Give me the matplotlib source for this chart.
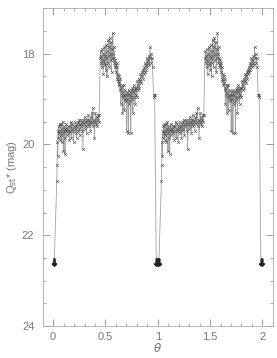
import numpy as np
import matplotlib.pyplot as plt
from matplotlib.ticker import MultipleLocator

# fase y magnitud de un ciclo (se repite en theta+1)
fase = [0.035, 0.038, 0.041, 0.044, 0.047, 0.050, 0.054, 0.058, 0.062, 0.066,
        0.070, 0.074, 0.078, 0.082, 0.086, 0.090, 0.094, 0.098, 0.102, 0.106,
        0.110, 0.114, 0.118, 0.122, 0.126, 0.130, 0.135, 0.140, 0.145, 0.150,
        0.155, 0.160, 0.165, 0.170, 0.175, 0.180, 0.185, 0.190, 0.195, 0.200,
        0.205, 0.210, 0.215, 0.220, 0.225, 0.230, 0.235, 0.240, 0.245, 0.250,
        0.255, 0.260, 0.265, 0.270, 0.275, 0.280, 0.285, 0.290, 0.295, 0.300,
        0.305, 0.310, 0.315, 0.320, 0.325, 0.330, 0.335, 0.340, 0.345, 0.350,
        0.355, 0.360, 0.365, 0.370, 0.375, 0.380, 0.385, 0.390, 0.395, 0.400,
        0.405, 0.410, 0.415, 0.420, 0.425, 0.430, 0.435, 0.440,
        0.450, 0.455, 0.458, 0.462, 0.466, 0.470, 0.474, 0.478, 0.482, 0.486,
        0.490, 0.494, 0.498, 0.502, 0.506, 0.510, 0.514, 0.518, 0.522, 0.526,
        0.530, 0.534, 0.538, 0.542, 0.546, 0.550, 0.554, 0.558, 0.562, 0.566,
        0.570, 0.574, 0.578, 0.582, 0.586, 0.590, 0.594, 0.598,
        0.602, 0.606, 0.610, 0.614, 0.618, 0.622, 0.626, 0.630, 0.634, 0.638,
        0.642, 0.646, 0.650, 0.654, 0.658, 0.662, 0.666, 0.670, 0.674, 0.678,
        0.682, 0.686, 0.690, 0.694, 0.698, 0.702, 0.706, 0.710, 0.714, 0.718,
        0.722, 0.726, 0.730, 0.734, 0.738, 0.742, 0.746, 0.750, 0.754, 0.758,
        0.762, 0.766, 0.770, 0.774, 0.778, 0.782, 0.786,
        0.790, 0.795, 0.800, 0.805, 0.810, 0.815, 0.820, 0.825, 0.830, 0.835,
        0.840, 0.845, 0.850, 0.855, 0.860, 0.865, 0.870, 0.875, 0.880, 0.885,
        0.890, 0.895, 0.900, 0.905, 0.910, 0.915, 0.920, 0.925, 0.930, 0.935,
        0.940, 0.945, 0.950, 0.960, 0.965, 0.970]
mag = [20.8, 20.45, 19.95, 20.25, 19.7, 19.85, 19.6, 19.75, 19.55, 19.9,
       19.7, 19.8, 19.55, 19.95, 19.65, 19.5, 19.75, 20.15, 19.7, 19.6,
       19.85, 20.2, 19.65, 19.7, 19.55, 19.8, 19.65, 19.7, 19.6, 19.75,
       19.9, 19.6, 19.7, 19.5, 19.85, 19.65, 19.55, 19.7, 19.95, 19.6,
       19.65, 19.5, 19.75, 19.6, 19.85, 19.55, 19.7, 19.5, 19.65, 19.45,
       19.8, 19.55, 19.6, 19.45, 19.7, 19.5, 20.1, 19.55, 19.45, 19.65,
       19.4, 19.6, 19.5, 19.75, 19.45, 19.55, 19.35, 19.6, 19.45, 19.5,
       19.7, 19.4, 19.55, 19.3, 19.5, 19.2, 19.6, 19.45, 19.85, 19.5,
       19.3, 19.55, 19.4, 19.6, 19.45, 19.35, 19.5, 19.35,
       18.1, 17.95, 18.2, 18.05, 18.3, 17.9, 18.15, 18.45, 18.0, 18.2,
       17.85, 18.25, 18.05, 18.35, 17.8, 18.1, 18.5, 17.95, 18.2, 17.7,
       18.05, 18.3, 17.85, 17.65, 18.0, 18.15, 17.75, 18.4, 17.9, 18.1,
       17.55, 18.0, 18.2, 17.85, 18.1, 18.3, 18.15, 18.25,
       18.4, 18.2, 18.55, 18.3, 18.6, 18.45, 18.7, 18.5, 18.65, 18.8,
       18.55, 19.1, 18.75, 18.9, 18.7, 19.3, 18.85, 18.95, 18.7, 19.25,
       18.9, 19.0, 18.8, 19.05, 18.9, 19.7, 18.85, 19.0, 18.9, 19.75,
       18.8, 19.1, 18.9, 19.05, 18.85, 19.75, 18.95, 18.8, 19.0, 18.75,
       19.3, 18.85, 18.7, 18.95, 18.8, 19.1, 18.75,
       18.9, 18.75, 18.95, 18.6, 18.8, 18.7, 18.55, 18.75, 18.6, 18.45,
       18.65, 18.5, 18.4, 18.55, 18.35, 18.45, 18.3, 18.4, 18.2, 18.35,
       18.25, 18.1, 18.3, 18.15, 18.2, 18.05, 18.25, 17.85, 18.1, 18.0,
       18.2, 18.1, 18.3, 18.9, 18.95, 18.9]

# limites superiores (no detecciones)
fase_lim_ini = [0.006, 0.012]
fase_lim_fin = [0.985, 0.992]
mag_lim = 22.5

plt.rcParams['font.family'] = ['Liberation Sans', 'DejaVu Sans']
gris = '#8a8a8a'

fig = plt.figure(figsize=(2.77, 3.58), dpi=100)
ax = fig.add_axes([0.154, 0.089, 0.831, 0.888])

# armar la curva completa: dos ciclos, con los limites en la secuencia
x_all, y_all = [], []
for k in [0, 1]:
    x_all += [p + k for p in fase_lim_ini] + [p + k for p in fase] + [p + k for p in fase_lim_fin]
    y_all += [mag_lim] * len(fase_lim_ini) + mag + [mag_lim] * len(fase_lim_fin)
x_all = np.array(x_all)
y_all = np.array(y_all)
det = y_all < mag_lim

ax.plot(x_all, y_all, color='#a0a0a0', lw=0.6, zorder=1)
ax.plot(x_all[det], y_all[det], 'x', color='#555555', ms=2.0, mew=0.45, zorder=2)
ax.plot(x_all[~det], y_all[~det] + 0.08, marker=r'$\downarrow$', ls='none',
        color='#222222', ms=5, zorder=3)

ax.set_xlim(-0.1, 2.1)
ax.set_ylim(24, 17)
ax.xaxis.set_major_locator(MultipleLocator(0.5))
ax.xaxis.set_minor_locator(MultipleLocator(0.1))
ax.yaxis.set_major_locator(MultipleLocator(2))
ax.yaxis.set_minor_locator(MultipleLocator(0.5))
ax.xaxis.set_major_formatter(plt.FuncFormatter(lambda v, p: '%g' % v))
ax.tick_params(which='both', direction='in', top=True, right=True,
               colors=gris, labelsize=8, labelcolor='#777777')
ax.tick_params(which='major', length=5, width=0.6)
ax.tick_params(which='minor', length=2.5, width=0.5)
ax.tick_params(axis='y', which='major', pad=6)
ax.tick_params(axis='x', which='major', pad=4)
for s in ax.spines.values():
    s.set_color('#aaaaaa')
    s.set_linewidth(0.6)

ax.set_xlabel(r'$\theta$', color='#777777', fontsize=8.5, labelpad=0)
ax.set_ylabel(r'Q$_{\rm st}$* (mag)', color='#777777', fontsize=8, labelpad=2)

plt.savefig('out.png', dpi=100)
